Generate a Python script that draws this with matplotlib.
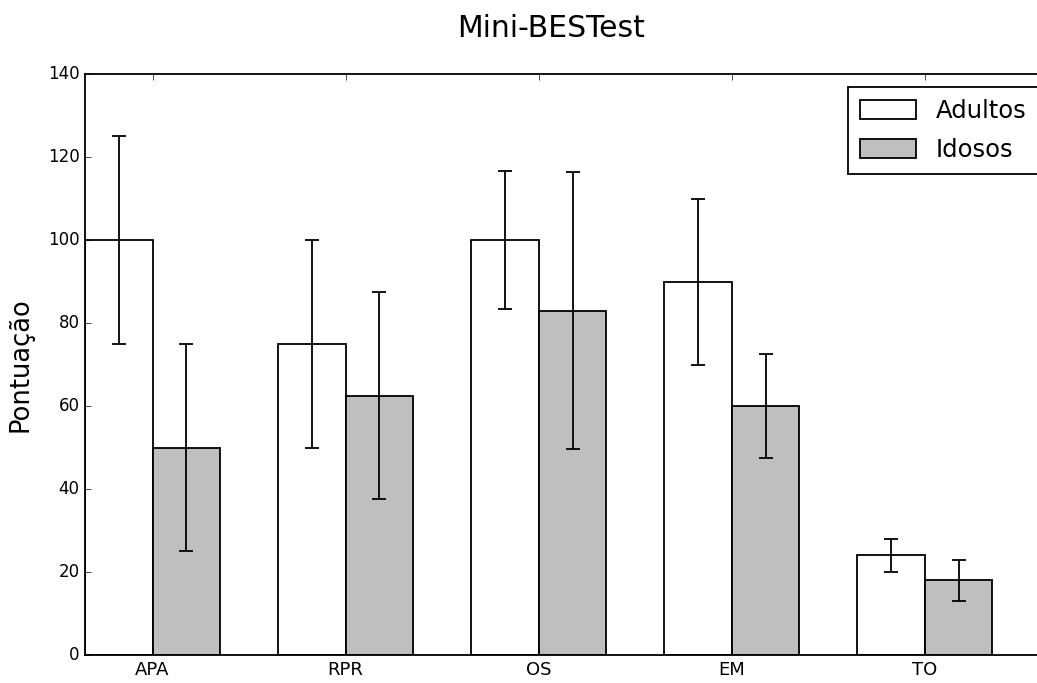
import matplotlib
matplotlib.use("Agg")
import matplotlib.pyplot as plt
import numpy as np

categories = ["APA", "RPR", "OS", "EM", "TO"]
adultos = [100, 75, 100, 90, 24]
adultos_err = [25, 25, 16.7, 20, 4]
idosos = [50, 62.5, 83, 60, 18]
idosos_err = [25, 25, 33.3, 12.5, 5]

plt.style.use("classic")
plt.rcParams["axes.linewidth"] = 1.3
fig = plt.figure(figsize=(10.37, 6.83), dpi=100)
ax = fig.add_axes([85/1037, 28/683, (1060-85)/1037, (655-74)/683])

ind = np.arange(len(categories))
width = 0.35
ekw = dict(elinewidth=1.3, capthick=1.3)
ax.bar(ind, adultos, width, align="edge", color="white", edgecolor="black", linewidth=1.3,
       yerr=adultos_err, ecolor="black", capsize=5, error_kw=ekw, label="Adultos")
ax.bar(ind + width, idosos, width, align="edge", color="#bfbfbf", edgecolor="black", linewidth=1.3,
       yerr=idosos_err, ecolor="black", capsize=5, error_kw=ekw, label="Idosos")

ax.set_xlim(0, 5.05)
ax.set_ylim(0, 140)
ax.set_yticks(np.arange(0, 141, 20))
ax.set_xticks(ind + width)
ax.set_xticklabels(categories, fontsize=13)
ax.tick_params(axis="y", labelsize=12)
ax.set_ylabel("Pontuação", fontsize=18.5, labelpad=10)
fig.text(551/1037, 1 - 37/683, "Mini-BESTest", fontsize=21.5, ha="center", va="baseline")

leg = ax.legend(loc="upper left", bbox_to_anchor=(848/1037, 1 - 87/683),
                bbox_transform=fig.transFigure, fontsize=17.5, borderaxespad=0,
                handlelength=2.3, handleheight=0.8, handletextpad=0.8,
                labelspacing=0.6, borderpad=0.5)
leg.get_frame().set_linewidth(1.3)

fig.savefig("out.png", dpi=100)
